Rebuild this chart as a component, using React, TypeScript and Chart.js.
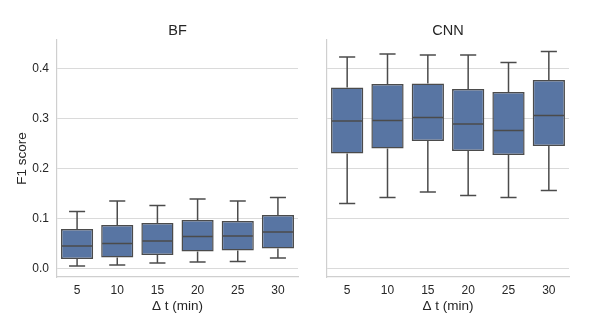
import React, { useEffect, useRef } from "react";
import { Chart, registerables } from "chart.js";

Chart.register(...registerables);

const categories = ["5", "10", "15", "20", "25", "30"];

const bfMin = [0.005, 0.007, 0.011, 0.013, 0.014, 0.021];
const bfQ1 = [0.019, 0.022, 0.027, 0.034, 0.036, 0.040];
const bfMed = [0.045, 0.050, 0.055, 0.064, 0.065, 0.073];
const bfQ3 = [0.079, 0.087, 0.091, 0.097, 0.095, 0.107];
const bfMax = [0.114, 0.135, 0.126, 0.139, 0.135, 0.142];

const cnnMin = [0.130, 0.142, 0.153, 0.146, 0.142, 0.156];
const cnnQ1 = [0.230, 0.240, 0.255, 0.235, 0.227, 0.245];
const cnnMed = [0.295, 0.296, 0.302, 0.289, 0.276, 0.306];
const cnnQ3 = [0.362, 0.369, 0.370, 0.359, 0.353, 0.377];
const cnnMax = [0.423, 0.429, 0.427, 0.427, 0.412, 0.434];

const yTicks = [0, 0.1, 0.2, 0.3, 0.4];
const Y_MIN = -0.017;
const Y_MAX = 0.457;

const FILL = "#5875a3";
const LINE = "#4b4b4b";
const GRID = "#dadada";
const SPINE = "#cfcfcf";
const TEXT = "#262626";
const FONT = "'Liberation Sans', Arial, sans-serif";

function makeWhiskerPlugin(mins: number[], meds: number[], q3s: number[], q1s: number[], maxs: number[]) {
  return {
    id: "boxWhiskers",
    afterDatasetsDraw(chart: any) {
      const ctx = chart.ctx;
      const yScale = chart.scales.y;
      const meta = chart.getDatasetMeta(0);
      ctx.save();
      ctx.strokeStyle = LINE;
      ctx.lineWidth = 1.5;
      ctx.lineCap = "butt";
      meta.data.forEach((bar: any, i: number) => {
        const { x, width } = bar.getProps(["x", "width"], true);
        const half = width / 2;
        const pMed = yScale.getPixelForValue(meds[i]);
        const pQ1 = yScale.getPixelForValue(q1s[i]);
        const pQ3 = yScale.getPixelForValue(q3s[i]);
        const pMin = yScale.getPixelForValue(mins[i]);
        const pMax = yScale.getPixelForValue(maxs[i]);
        const seg = (x1: number, y1: number, x2: number, y2: number) => {
          ctx.beginPath();
          ctx.moveTo(x1, y1);
          ctx.lineTo(x2, y2);
          ctx.stroke();
        };
        seg(x - half + 1, pMed, x + half - 1, pMed);
        seg(x, pQ3, x, pMax);
        seg(x - half / 2, pMax, x + half / 2, pMax);
        seg(x, pQ1, x, pMin);
        seg(x - half / 2, pMin, x + half / 2, pMin);
      });
      ctx.restore();
    },
  };
}

function makeConfig(
  title: string,
  q1s: number[],
  q3s: number[],
  showYLabels: boolean,
  yWidth: number,
  rightPad: number
): any {
  return {
    type: "bar",
    data: {
      labels: categories,
      datasets: [
        {
          data: q1s.map((v, i) => [v, q3s[i]]),
          backgroundColor: FILL,
          borderColor: LINE,
          borderWidth: 1.5,
          borderSkipped: false,
          barPercentage: 0.8,
          categoryPercentage: 1,
        },
      ],
    },
    options: {
      responsive: false,
      animation: false,
      layout: { padding: { left: 0, right: rightPad, top: 0, bottom: 0 } },
      plugins: {
        legend: { display: false },
        tooltip: { enabled: false },
        title: {
          display: true,
          text: title,
          fullSize: false,
          color: TEXT,
          font: { family: FONT, size: 14.5, weight: "normal" },
          padding: { top: 22.3, bottom: 0.3 },
        },
      },
      scales: {
        x: {
          type: "category",
          offset: true,
          grid: { display: false, drawTicks: false },
          border: { display: true, color: SPINE, width: 1.2 },
          ticks: {
            color: TEXT,
            font: { family: FONT, size: 12 },
            padding: 6,
            maxRotation: 0,
          },
          title: {
            display: true,
            text: "\u0394 t (min)",
            color: TEXT,
            font: { family: FONT, size: 13.5 },
            padding: { top: 0, bottom: 17 },
          },
          afterFit: (s: any) => {
            s.height = 54;
          },
        },
        y: {
          type: "linear",
          min: Y_MIN,
          max: Y_MAX,
          afterBuildTicks: (s: any) => {
            s.ticks = yTicks.map((v) => ({ value: v }));
          },
          grid: { display: true, color: GRID, lineWidth: 1, drawTicks: false },
          border: { display: true, color: SPINE, width: 1.2 },
          ticks: {
            display: showYLabels,
            color: TEXT,
            font: { family: FONT, size: 12 },
            padding: 8,
            callback: (v: any) => Number(v).toFixed(1),
          },
          title: {
            display: showYLabels,
            text: "F1 score",
            color: TEXT,
            font: { family: FONT, size: 13.5 },
            padding: { top: 14.5, bottom: 0 },
          },
          afterFit: (s: any) => {
            s.width = yWidth;
          },
        },
      },
    },
  };
}

function Panel(props: {
  left: number;
  width: number;
  title: string;
  mins: number[];
  q1s: number[];
  meds: number[];
  q3s: number[];
  maxs: number[];
  showYLabels: boolean;
  yWidth: number;
  rightPad: number;
}) {
  const ref = useRef<HTMLCanvasElement | null>(null);
  useEffect(() => {
    if (!ref.current) return;
    const cfg = makeConfig(props.title, props.q1s, props.q3s, props.showYLabels, props.yWidth, props.rightPad);
    cfg.plugins = [makeWhiskerPlugin(props.mins, props.meds, props.q3s, props.q1s, props.maxs)];
    const chart = new Chart(ref.current, cfg);
    return () => chart.destroy();
  }, []);
  return (
    <canvas
      ref={ref}
      width={props.width}
      height={331}
      style={{ position: "absolute", left: props.left, top: 0, width: props.width, height: 331, display: "block" }}
    />
  );
}

export default function App() {
  return (
    <div style={{ position: "absolute", left: 0, top: 0, width: 598, height: 331, background: "#fff" }}>
      <Panel
        left={0}
        width={310}
        title="BF"
        mins={bfMin}
        q1s={bfQ1}
        meds={bfMed}
        q3s={bfQ3}
        maxs={bfMax}
        showYLabels={true}
        yWidth={57}
        rightPad={12}
      />
      <Panel
        left={310}
        width={288}
        title="CNN"
        mins={cnnMin}
        q1s={cnnQ1}
        meds={cnnMed}
        q3s={cnnQ3}
        maxs={cnnMax}
        showYLabels={false}
        yWidth={17}
        rightPad={29}
      />
    </div>
  );
}
